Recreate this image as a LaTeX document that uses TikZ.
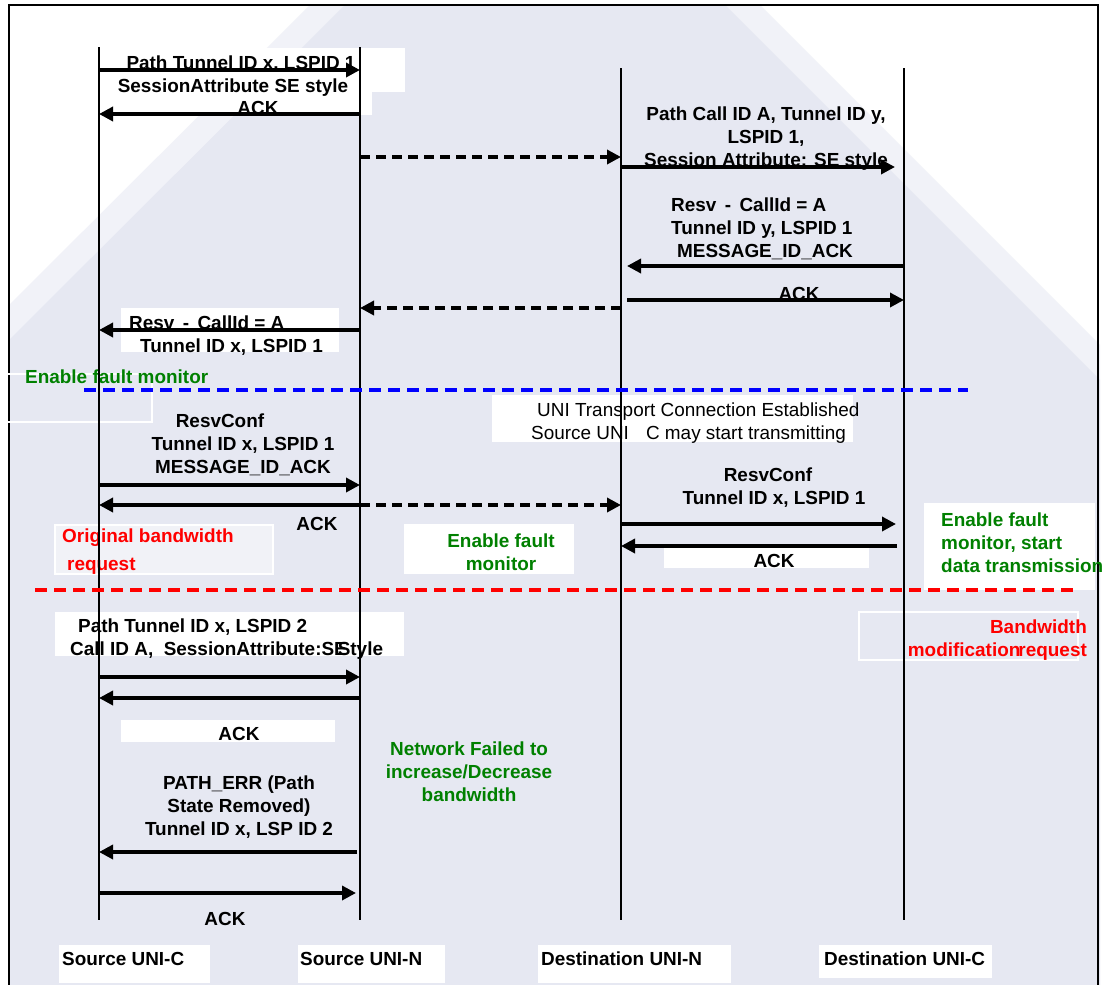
\documentclass[tikz,border=0pt]{standalone}
\usepackage{fontspec}
\setmainfont{Liberation Sans}
\usetikzlibrary{arrows.meta}
\definecolor{lav}{RGB}{230,232,242}
\definecolor{lavsoft}{RGB}{241,242,248}
\definecolor{grn}{RGB}{0,128,0}
\begin{document}
\begin{tikzpicture}[x=1bp,y=-1bp,
  txt/.style={font=\fontsize{19}{23}\selectfont\bfseries, inner sep=0pt, anchor=base},
  plain/.style={font=\fontsize{19}{23}\selectfont, inner sep=0pt, anchor=base},
  note/.style={txt, text=grn},
  alert/.style={txt, text=red},
  msg/.style={line width=3.4bp, -{Triangle[length=14bp,width=14bp]}},
  dmsg/.style={msg, dash pattern=on 10bp off 6bp},
  life/.style={line width=1.6bp},
  wbox/.style={fill=white},
  wframe/.style={draw=white, line width=1.2bp},
  phase/.style={line width=3.6bp, dash pattern=on 12bp off 7bp}
]
\useasboundingbox (0,0) rectangle (1107,985);
\clip (0,0) rectangle (1107,985);

% page background and soft pyramid backdrop
\fill[white] (0,0) rectangle (1107,985);
\fill[lavsoft] (310,5) -- (760,5) -- (1100,345) -- (1100,985) -- (9,985) -- (9,305) -- cycle;
\fill[lav] (345,5) -- (725,5) -- (1100,380) -- (1100,985) -- (9,985) -- (9,340) -- cycle;
\draw[line width=1.8bp] (9,5) rectangle (1098,1000);

% white label panels
\fill[wbox] (99,48) rectangle (405,92);
\fill[wbox] (99,92) rectangle (372,115);
\fill[wbox] (121,308) rectangle (339,352);
\fill[wbox] (492,395) rectangle (853,442);
\fill[wbox] (404,524) rectangle (574,574);
\fill[wbox] (664,548) rectangle (869,568);
\fill[wbox] (924,503) rectangle (1095,590);
\fill[wbox] (55,612) rectangle (404,656);
\fill[wbox] (121,720) rectangle (335,742);
\fill[white, opacity=0.45] (55,525) rectangle (273,574);
\draw[wframe] (55,525) rectangle (273,574);
\draw[wframe] (859,612) rectangle (1078,660);
\draw[wframe] (-2,374) -- (152,374) -- (152,422) -- (-2,422);
\fill[wbox] (59,945) rectangle (210,983);
\fill[wbox] (298,945) rectangle (445,983);
\fill[wbox] (538,945) rectangle (731,983);
\fill[wbox] (819,945) rectangle (992,978);

% message labels (multi-line labels sit on the baseline of their last line)
\node[txt] (t1) at (241,69) {Path Tunnel ID x, LSPID 1};
\node[txt] (t2) at (233,92) {SessionAttribute SE style};
\node[txt] (t3) at (258,114) {ACK};
\node[txt, align=center] (t4) at (766,166) {Path Call ID A, Tunnel ID y,\\LSPID 1,\\Session Attribute: SE style};
\node[txt, align=left, anchor=base west] (t5) at (671,257) {Resv\,\ -\ \,CallId = A\\Tunnel ID y, LSPID 1\\\hspace*{6bp}MESSAGE\_ID\_ACK};
\node[txt] (t6) at (799,300) {ACK};
\node[txt, align=left, anchor=base west] (t7) at (129,352) {Resv\,\ -\ \,CallId = A\\\hspace*{11bp}Tunnel ID x, LSPID 1};
\node[note, anchor=base west] (n1) at (25,383) {Enable fault monitor};
\node[txt, align=center] (t8) at (243,473) {ResvConf\hspace*{46bp}\\Tunnel ID x, LSPID 1\\MESSAGE\_ID\_ACK};
\node[txt] (t9) at (317,530) {ACK};
\node[plain, align=left, anchor=base west] (t10) at (531,439) {\hspace*{6bp}UNI Transport Connection Established\\Source UNI\hspace{0.9em}C may start transmitting};
\node[txt, align=center] (t11) at (774,504) {ResvConf\hspace*{12bp}\\Tunnel ID x, LSPID 1};
\node[txt] (t12) at (774,567) {ACK};
\node[note, align=center] (n2) at (501,570) {Enable fault\\monitor};
\node[note, align=left, anchor=base west] (n3) at (941,572) {Enable fault\\monitor, start\\data transmission};
\node[alert, align=left, anchor=base west] (r1) at (62,570) {Original bandwidth\\[5bp]\hspace*{5bp}request};
\node[txt, align=left, anchor=base west] (t13) at (70,655) {\hspace*{8bp}Path Tunnel ID x, LSPID 2\\Call ID A,\ \ SessionAttribute:SE\kern-9bp Style};
\node[alert, align=right, anchor=base east] (r2) at (1087,656) {Bandwidth\\modification\kern-2bp request};
\node[txt] (t14) at (239,740) {ACK};
\node[note, align=center] (n4) at (469,801) {Network Failed to\\increase/Decrease\\bandwidth};
\node[txt, align=center] (t15) at (239,835) {PATH\_ERR (Path\\State Removed)\\Tunnel ID x, LSP ID 2};
\node[txt] (t16) at (225,925) {ACK};

% participant names
\node[txt, anchor=base west] (p1) at (62,965) {Source UNI-C};
\node[txt, anchor=base west] (p2) at (300,965) {Source UNI-N};
\node[txt, anchor=base west] (p3) at (541,965) {Destination UNI-N};
\node[txt, anchor=base west] (p4) at (824,965) {Destination UNI-C};

% lifelines
\coordinate (L1) at (99,47);
\coordinate (L2) at (360,47);
\coordinate (L3) at (621,68);
\coordinate (L4) at (904,68);
\coordinate (E1) at (99,920);
\coordinate (E2) at (360,920);
\coordinate (E3) at (621,920);
\coordinate (E4) at (904,920);
\draw[life] (L1) -- (E1);
\draw[life] (L2) -- (E2);
\draw[life] (L3) -- (E3);
\draw[life] (L4) -- (E4);

% phase separators
\coordinate (b1) at (84,390);
\coordinate (b2) at (968,390);
\draw[phase, blue] (b1) -- (b2);
\coordinate (c1) at (35,590);
\coordinate (c2) at (1075,590);
\draw[phase, red] (c1) -- (c2);

% messages
\draw[msg] (L1 |- 0,70) -- (L2 |- 0,70);
\draw[msg] (L2 |- 0,114) -- (L1 |- 0,114);
\draw[dmsg] (L2 |- 0,157) -- (L3 |- 0,157);
\draw[msg, shorten >=9bp] (L3 |- 0,167) -- (L4 |- 0,167);
\draw[msg, shorten >=6bp] (L4 |- 0,266) -- (L3 |- 0,266);
\draw[msg, shorten <=6bp] (L3 |- 0,300) -- (L4 |- 0,300);
\draw[dmsg] (L3 |- 0,308) -- (L2 |- 0,308);
\draw[msg] (L2 |- 0,330) -- (L1 |- 0,330);
\draw[msg] (L1 |- 0,485) -- (L2 |- 0,485);
\draw[msg] (L2 |- 0,505) -- (L1 |- 0,505);
\draw[dmsg] (L2 |- 0,505) -- (L3 |- 0,505);
\draw[msg, shorten >=8bp] (L3 |- 0,524) -- (L4 |- 0,524);
\draw[msg, shorten <=7bp] (L4 |- 0,546) -- (L3 |- 0,546);
\draw[msg] (L1 |- 0,677) -- (L2 |- 0,677);
\draw[msg] (L2 |- 0,698) -- (L1 |- 0,698);
\draw[msg, shorten <=3bp] (L2 |- 0,852) -- (L1 |- 0,852);
\draw[msg, shorten >=4bp] (L1 |- 0,893) -- (L2 |- 0,893);
\end{tikzpicture}
\end{document}
